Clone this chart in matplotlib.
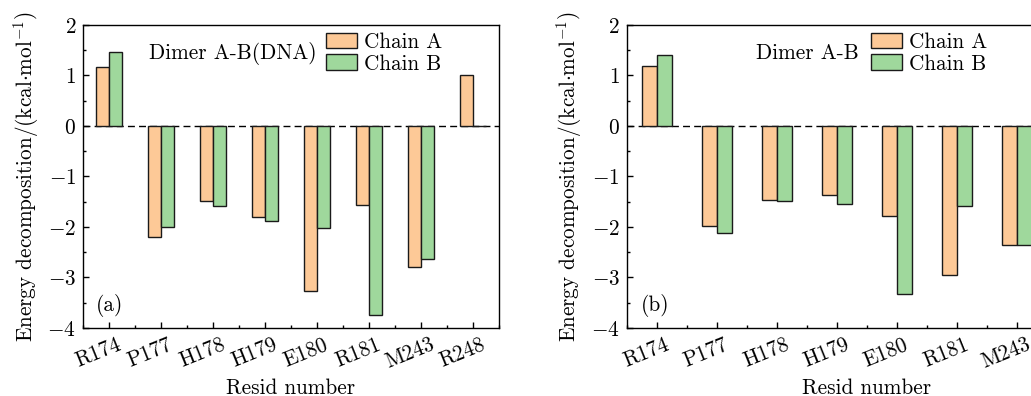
import numpy as np
import matplotlib
matplotlib.use('Agg')
from matplotlib import pyplot as plt
from matplotlib.ticker import MultipleLocator, FixedLocator

plt.rcParams['font.family'] = 'serif'
plt.rcParams['font.serif'] = ['cmr10']
plt.rcParams['mathtext.fontset'] = 'cm'
plt.rcParams['axes.formatter.use_mathtext'] = True
plt.rcParams['font.size'] = 15.3

# residues and energy values
resid_a = ['R174', 'P177', 'H178', 'H179', 'E180', 'R181', 'M243', 'R248']
chainA_a = [1.16, -2.19, -1.48, -1.81, -3.26, -1.56, -2.79, 1.0]
chainB_a = [1.47, -2.00, -1.59, -1.89, -2.03, -3.74, -2.64, 0.0]

resid_b = ['R174', 'P177', 'H178', 'H179', 'E180', 'R181', 'M243']
chainA_b = [1.18, -1.99, -1.47, -1.37, -1.79, -2.96, -2.36]
chainB_b = [1.41, -2.13, -1.49, -1.54, -3.33, -1.59, -2.36]

col_a = '#fdc997'
col_b = '#9fd89c'
edge = '#1a1a1a'
w = 0.25

fig = plt.figure(figsize=(10.31, 3.96), dpi=100)
ax1 = fig.add_axes([0.0805, 0.172, 0.4035, 0.765])
ax2 = fig.add_axes([0.608, 0.172, 0.4656, 0.765])


def draw_panel(ax, resid, ya, yb, title, tag, leg_x, title_x):
    x = np.arange(len(resid))
    ax.bar(x - w/2, ya, w, color=col_a, edgecolor=edge, linewidth=1.0, label='Chain A')
    ax.bar(x + w/2, yb, w, color=col_b, edgecolor=edge, linewidth=1.0, label='Chain B')
    ax.axhline(0, color='black', linestyle=(0, (5, 3)), linewidth=1.0, zorder=0.5)
    ax.set_xlim(-0.5, 7.5)
    ax.set_ylim(-4, 2)
    ax.set_xticks(x)
    ax.set_xticklabels(resid, rotation=22, ha='center')
    ax.xaxis.set_minor_locator(FixedLocator(np.arange(-0.5, 8, 0.5)))
    ax.yaxis.set_major_locator(MultipleLocator(1))
    ax.yaxis.set_minor_locator(MultipleLocator(0.5))
    ax.tick_params(which='both', direction='in', top=False, right=False, width=1.0)
    ax.tick_params(which='major', length=4)
    ax.tick_params(which='minor', length=2.5)
    ax.tick_params(axis='x', pad=5)
    ax.tick_params(axis='y', pad=5)
    for lbl in ax.get_xticklabels():
        lbl.set_transform(lbl.get_transform() + matplotlib.transforms.ScaledTranslation(-11/100, 0, fig.dpi_scale_trans))
    for s in ax.spines.values():
        s.set_linewidth(1.0)
    ax.set_xlabel('Resid number', labelpad=4.5)
    ax.set_ylabel(r'Energy decomposition/(kcal$\cdot$mol$^{-1}$)', labelpad=5)
    ax.text(title_x, 0.905, title, transform=ax.transAxes, va='center', ha='left')
    ax.text(0.03, 0.073, tag, transform=ax.transAxes, va='center', ha='left')
    ax.legend(loc='upper left', bbox_to_anchor=(leg_x, 0.975), frameon=False,
              borderpad=0, handlelength=1.45, handleheight=0.75, handletextpad=0.35,
              labelspacing=0.1, borderaxespad=0)


draw_panel(ax1, resid_a, chainA_a, chainB_a, 'Dimer A-B(DNA)', '(a)', 0.584, 0.159)
draw_panel(ax2, resid_b, chainA_b, chainB_b, 'Dimer A-B', '(b)', 0.508, 0.27)

fig.savefig('out.png', dpi=100)
